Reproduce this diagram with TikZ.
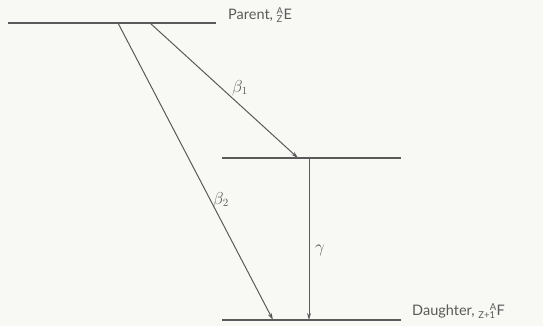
\documentclass[tikz,border=0pt]{standalone}
\usepackage{fontspec}
\setmainfont{Lato}
\usepackage{xcolor}
\definecolor{inkgray}{RGB}{90, 90, 90}
\definecolor{paper}{RGB}{248, 248, 245}
\usepackage{tikz}
\usetikzlibrary{arrows.meta, positioning}
\newcommand{\nucscript}[2]{$^{\mbox{\fontsize{9.5}{10}\selectfont #1}}_{\mbox{\fontsize{9.5}{10}\selectfont #2}}$}

\begin{document}
\begin{tikzpicture}[x=1pt, y=-1pt, >={Stealth[length=7pt, width=4pt]},
    level/.style={line width=1.1pt, inkgray},
    decay/.style={line width=1pt, inkgray, ->},
    lbl/.style={inkgray, font=\fontsize{14.5}{17}\selectfont, inner sep=1pt},
    glbl/.style={inkgray, font=\fontsize{16}{18}\selectfont, inner sep=1pt}]
    \fill[paper] (0,0) rectangle (543,326);
    \useasboundingbox (0,0) rectangle (543,326);
    % energy levels
    \coordinate (pL) at (8,23);   \coordinate (pR) at (216,23);
    \coordinate (mL) at (222,158); \coordinate (mR) at (401,158);
    \coordinate (dL) at (222,320); \coordinate (dR) at (401,320);
    \draw[level] (pL) -- (pR);
    \draw[level] (mL) -- (mR);
    \draw[level] (dL) -- (dR);
    \node[lbl, anchor=west] (parent) at (227,15) {Parent, \nucscript{A}{Z}E};
    \node[lbl, anchor=west] (daughter) at (411,311) {Daughter, \nucscript{\hspace{1.2em}A}{Z+1}F};
    % transitions
    \coordinate (b1s) at (150,23);  \coordinate (b1e) at (298,158);
    \coordinate (b2s) at (118,23);  \coordinate (b2e) at (273,320);
    \coordinate (gs) at (309,158);  \coordinate (ge) at (309,320);
    \draw[decay] (b1s) -- (b1e);
    \draw[decay] (b2s) -- (b2e);
    \draw[decay] (gs) -- (ge);
    \node[glbl] (beta1) at (240,88) {$\beta_1$};
    \node[glbl] (beta2) at (221,200) {$\beta_2$};
    \node[glbl] (gamma) at (320,250) {$\gamma$};
\end{tikzpicture}
\end{document}
